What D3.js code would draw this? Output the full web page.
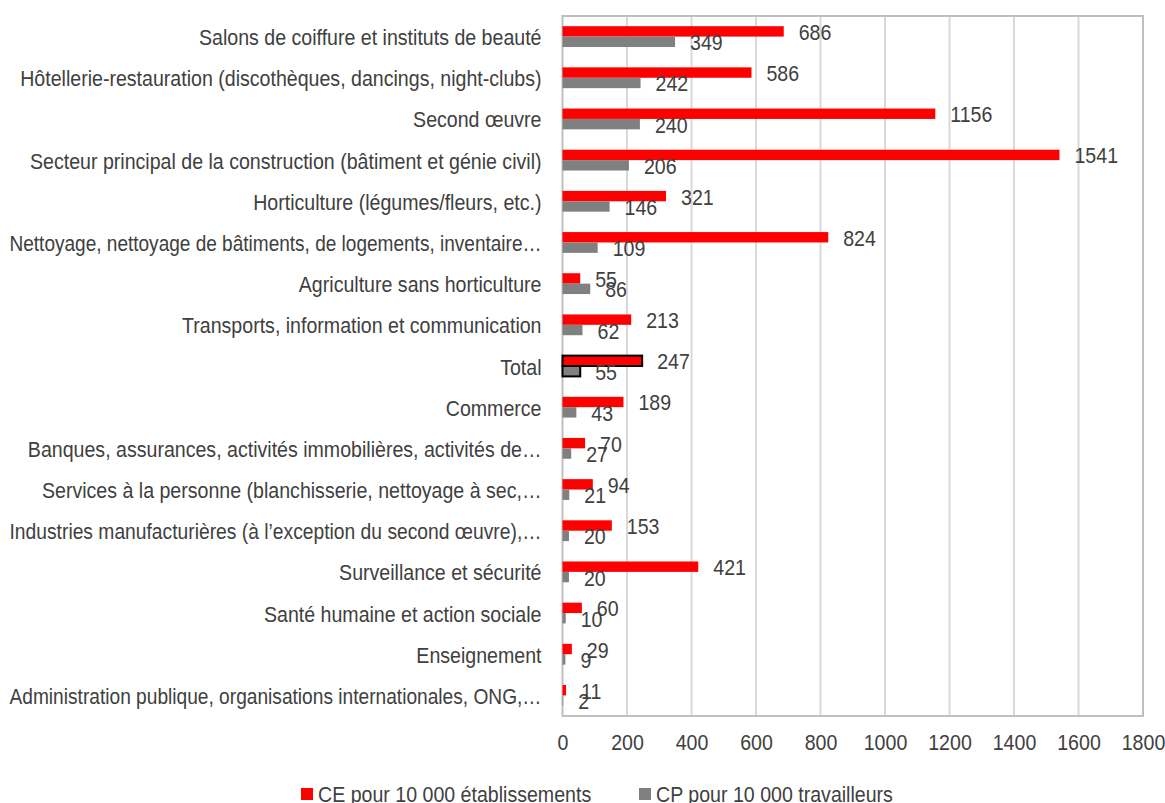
<!DOCTYPE html>
<html>
<head>
<meta charset="utf-8">
<script src="https://cdn.jsdelivr.net/npm/d3@7"></script>
<style>
  body { margin: 0; background: #fff; }
  svg text { font-family: 'Liberation Sans', Arial, sans-serif; fill: #404040; }
</style>
</head>
<body>
<div id="container"></div>
<script>
// data
let categories = [
  "Salons de coiffure et instituts de beauté",
  "Hôtellerie-restauration (discothèques, dancings, night-clubs)",
  "Second œuvre ",
  "Secteur principal de la construction (bâtiment et génie civil)",
  "Horticulture (légumes/fleurs, etc.)",
  "Nettoyage, nettoyage de bâtiments, de logements, inventaire…",
  "Agriculture sans horticulture",
  "Transports, information et communication",
  "Total",
  "Commerce",
  "Banques, assurances, activités immobilières, activités de…",
  "Services à la personne (blanchisserie, nettoyage à sec,…",
  "Industries manufacturières (à l’exception du second œuvre),…",
  "Surveillance et sécurité",
  "Santé humaine et action sociale",
  "Enseignement",
  "Administration publique, organisations internationales, ONG,…"
];
let ceValues = [686, 586, 1156, 1541, 321, 824, 55, 213, 247, 189, 70, 94, 153, 421, 60, 29, 11];
let cpValues = [349, 242, 240, 206, 146, 109, 86, 62, 55, 43, 27, 21, 20, 20, 10, 9, 2];
let seriesNames = ["CE pour 10 000 établissements", "CP pour 10 000 travailleurs"];
let xTicks = [0, 200, 400, 600, 800, 1000, 1200, 1400, 1600, 1800];

let w = 1165;
let h = 803;
let plotLeft = 562.5, plotRight = 1143, plotTop = 16, plotBottom = 716;
let fontSize = 22;
let squeeze = 0.89; // the original font is a narrow one
let colors = ["#ff0000", "#808080"];

// squash text horizontally so it looks like a narrow font
function condense(sel, maxLen){
  sel.each(function(){
    let len = this.getComputedTextLength() * squeeze;
    if(maxLen && len > maxLen){ len = maxLen; }
    d3.select(this).attr("textLength", len).attr("lengthAdjust", "spacingAndGlyphs");
  });
}

let viz = d3.select("#container")
  .append("svg")
    .attr("width", w)
    .attr("height", h)
;

let xScale = d3.scaleLinear().domain([0, 1800]).range([plotLeft, plotRight]);
let yScale = d3.scaleBand().domain(categories).range([plotTop, plotBottom]).padding(0);
let innerScale = d3.scaleBand().domain([0, 1]).range([0, yScale.bandwidth()]).paddingInner(0).paddingOuter(0.98);

// gridlines
viz.append("g").selectAll("line").data(xTicks.slice(1, -1)).enter()
  .append("line")
    .attr("x1", d => xScale(d)).attr("x2", d => xScale(d))
    .attr("y1", plotTop).attr("y2", plotBottom)
    .attr("stroke", "#d9d9d9").attr("stroke-width", 2)
;

// plot frame
viz.append("rect")
  .attr("x", plotLeft).attr("y", plotTop)
  .attr("width", plotRight - plotLeft).attr("height", plotBottom - plotTop)
  .attr("fill", "none").attr("stroke", "#bfbfbf").attr("stroke-width", 2)
;

// x axis labels
let xAxis = d3.axisBottom(xScale).tickValues(xTicks).tickFormat(d3.format("d")).tickSize(0).tickPadding(0);
let xAxisGroup = viz.append("g").attr("transform", "translate(0," + plotBottom + ")").call(xAxis);
xAxisGroup.select(".domain").remove();
xAxisGroup.attr("font-family", null);
xAxisGroup.selectAll("text")
  .attr("font-size", fontSize)
  .attr("dy", null)
  .attr("y", 26)
  .attr("dominant-baseline", "central")
  .call(condense)
;

// category labels
let yAxis = d3.axisLeft(yScale).tickSize(0).tickPadding(21);
let yAxisGroup = viz.append("g").attr("transform", "translate(" + plotLeft + ",0)").call(yAxis);
yAxisGroup.select(".domain").remove();
yAxisGroup.attr("font-family", null);
yAxisGroup.selectAll("text")
  .attr("font-size", fontSize)
  .attr("dy", null)
  .attr("y", 1)
  .attr("dominant-baseline", "central")
  .call(condense, 532)
;

let rows = categories.map(function(c, i){
  return {name: c, values: [ceValues[i], cpValues[i]]};
});

let groups = viz.append("g").selectAll(".datapoint").data(rows).enter()
  .append("g").classed("datapoint", true)
  .attr("transform", d => "translate(0," + yScale(d.name) + ")")
;

groups.selectAll("rect").data(d => d.values.map((v, k) => ({v: v, k: k, total: d.name == "Total"}))).enter()
  .append("rect")
    .attr("x", xScale(0))
    .attr("y", d => innerScale(d.k))
    .attr("width", d => xScale(d.v) - xScale(0))
    .attr("height", innerScale.bandwidth())
    .attr("fill", d => colors[d.k])
    .attr("stroke", d => d.total ? "#000" : "none")
    .attr("stroke-width", 2)
;

groups.selectAll("text.val").data(d => d.values.map((v, k) => ({v: v, k: k}))).enter()
  .append("text").classed("val", true)
    .attr("x", d => xScale(d.v) + 15)
    .attr("y", d => innerScale(d.k) + innerScale.bandwidth() / 2 + 1)
    .attr("dominant-baseline", "central")
    .attr("font-size", fontSize)
    .text(d => d.v)
    .call(condense)
;

// legend
let legendX = [301, 639];
let legend = viz.append("g").selectAll("g").data(seriesNames).enter()
  .append("g").attr("transform", (d, i) => "translate(" + legendX[i] + ",788)");
legend.append("rect").attr("width", 12).attr("height", 12).attr("fill", (d, i) => colors[i]);
legend.append("text").attr("x", 17).attr("y", 6).attr("dominant-baseline", "central")
  .attr("font-size", fontSize).text(d => d).call(condense);
</script>
</body>
</html>
